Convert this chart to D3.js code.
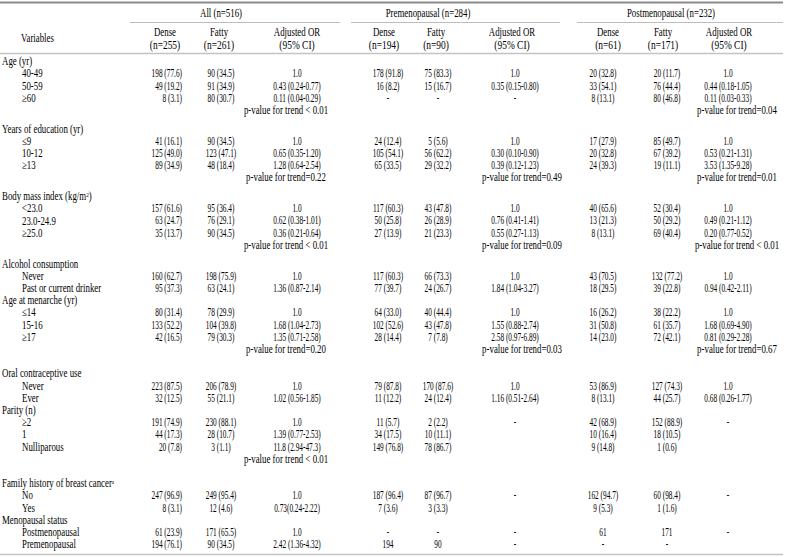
<!DOCTYPE html>
<html><head><meta charset="utf-8">
<script src="https://cdn.jsdelivr.net/npm/d3@7"></script>
<style>
body{margin:0;background:#fff;}
svg{display:block;}
text{font-family:"Liberation Serif","Times New Roman",serif;fill:#000;}
</style>
</head><body><div id="chart"></div>
<script>
// ---------- DATA ----------
const groupLabels = ["All (n=516)", "Premenopausal (n=284)", "Postmenopausal (n=232)"];
const columnHeads = [
  ["Dense", "(n=255)"], ["Fatty", "(n=261)"], ["Adjusted OR", "(95% CI)"],
  ["Dense", "(n=194)"], ["Fatty", "(n=90)"], ["Adjusted OR", "(95% CI)"],
  ["Dense", "(n=61)"], ["Fatty", "(n=171)"], ["Adjusted OR", "(95% CI)"]
];
// kinds: h = variable heading, s = category, p = p-value line, b = blank
const rowKinds = ["h","s","s","s","p","h","s","s","s","p","h","s","s","s","p","h","s","s","h","s","s","s","p","b","h","s","s","h","s","s","s","p","b","h","s","s","h","s","s"];
const rowLabels = ["Age (yr)","40-49","50-59","\u226560","",
  "Years of education (yr)","\u22649","10-12","\u226513","",
  "Body mass index (kg/m|2|)","<23.0","23.0-24.9","\u226525.0","",
  "Alcohol consumption","Never","Past or current drinker",
  "Age at menarche (yr)","\u226414","15-16","\u226517","","",
  "Oral contraceptive use","Never","Ever",
  "Parity (n)","\u22652","1","Nulliparous","","",
  "Family history of breast cancer|a|","No","Yes",
  "Menopausal status","Postmenopausal","Premenopausal"];

const allDense = ["","198 (77.6)","49 (19.2)","8 (3.1)","","","41 (16.1)","125 (49.0)","89 (34.9)","","","157 (61.6)","63 (24.7)","35 (13.7)","","","160 (62.7)","95 (37.3)","","80 (31.4)","133 (52.2)","42 (16.5)","","","","223 (87.5)","32 (12.5)","","191 (74.9)","44 (17.3)","20 (7.8)","","","","247 (96.9)","8 (3.1)","","61 (23.9)","194 (76.1)"];
const allFatty = ["","90 (34.5)","91 (34.9)","80 (30.7)","","","90 (34.5)","123 (47.1)","48 (18.4)","","","95 (36.4)","76 (29.1)","90 (34.5)","","","198 (75.9)","63 (24.1)","","78 (29.9)","104 (39.8)","79 (30.3)","","","","206 (78.9)","55 (21.1)","","230 (88.1)","28 (10.7)","3 (1.1)","","","","249 (95.4)","12 (4.6)","","171 (65.5)","90 (34.5)"];
const allOR = ["","1.0","0.43 (0.24-0.77)","0.11 (0.04-0.29)","p-value for trend < 0.01","","1.0","0.65 (0.35-1.20)","1.28 (0.64-2.54)","p-value for trend=0.22","","1.0","0.62 (0.38-1.01)","0.36 (0.21-0.64)","p-value for trend < 0.01","","1.0","1.36 (0.87-2.14)","","1.0","1.68 (1.04-2.73)","1.35 (0.71-2.58)","p-value for trend=0.20","","","1.0","1.02 (0.56-1.85)","","1.0","1.39 (0.77-2.53)","11.8 (2.94-47.3)","p-value for trend < 0.01","","","1.0","0.73(0.24-2.22)","","1.0","2.42 (1.36-4.32)"];
const preDense = ["","178 (91.8)","16 (8.2)","-","","","24 (12.4)","105 (54.1)","65 (33.5)","","","117 (60.3)","50 (25.8)","27 (13.9)","","","117 (60.3)","77 (39.7)","","64 (33.0)","102 (52.6)","28 (14.4)","","","","79 (87.8)","11 (12.2)","","11 (5.7)","34 (17.5)","149 (76.8)","","","","187 (96.4)","7 (3.6)","","-","194"];
const preFatty = ["","75 (83.3)","15 (16.7)","-","","","5 (5.6)","56 (62.2)","29 (32.2)","","","43 (47.8)","26 (28.9)","21 (23.3)","","","66 (73.3)","24 (26.7)","","40 (44.4)","43 (47.8)","7 (7.8)","","","","170 (87.6)","24 (12.4)","","2 (2.2)","10 (11.1)","78 (86.7)","","","","87 (96.7)","3 (3.3)","","-","90"];
const preOR = ["","1.0","0.35 (0.15-0.80)","-","","","1.0","0.30 (0.10-0.90)","0.39 (0.12-1.23)","p-value for trend=0.49","","1.0","0.76 (0.41-1.41)","0.55 (0.27-1.13)","p-value for trend=0.09","","1.0","1.84 (1.04-3.27)","","1.0","1.55 (0.88-2.74)","2.58 (0.97-6.89)","p-value for trend=0.03","","","1.0","1.16 (0.51-2.64)","","-","","","","","","-","","","-","-"];
const postDense = ["","20 (32.8)","33 (54.1)","8 (13.1)","","","17 (27.9)","20 (32.8)","24 (39.3)","","","40 (65.6)","13 (21.3)","8 (13.1)","","","43 (70.5)","18 (29.5)","","16 (26.2)","31 (50.8)","14 (23.0)","","","","53 (86.9)","8 (13.1)","","42 (68.9)","10 (16.4)","9 (14.8)","","","","162 (94.7)","9 (5.3)","","61","-"];
const postFatty = ["","20 (11.7)","76 (44.4)","80 (46.8)","","","85 (49.7)","67 (39.2)","19 (11.1)","","","52 (30.4)","50 (29.2)","69 (40.4)","","","132 (77.2)","39 (22.8)","","38 (22.2)","61 (35.7)","72 (42.1)","","","","127 (74.3)","44 (25.7)","","152 (88.9)","18 (10.5)","1 (0.6)","","","","60 (98.4)","1 (1.6)","","171","-"];
const postOR = ["","1.0","0.44 (0.18-1.05)","0.11 (0.03-0.33)","p-value for trend=0.04","","1.0","0.53 (0.21-1.31)","3.53 (1.35-9.28)","p-value for trend=0.01","","1.0","0.49 (0.21-1.12)","0.20 (0.77-0.52)","p-value for trend < 0.01","","1.0","0.94 (0.42-2.11)","","1.0","1.68 (0.69-4.90)","0.81 (0.29-2.28)","p-value for trend=0.67","","","1.0","0.68 (0.26-1.77)","","-","","","","","","-","","","-",""];

// ---------- LAYOUT ----------
const W = 791, H = 557;
const FS = 11.8;        // font size
const SX = 0.75;        // horizontal compression for words
const SXN = 0.62;       // horizontal compression for numeric cells
const columns = [
  {values: allDense,  x: 182, anchor: "end",    hx: 165},
  {values: allFatty,  x: 221, anchor: "middle", hx: 219},
  {values: allOR,     x: 297, anchor: "middle", hx: 297, px: 286},
  {values: preDense,  x: 388, anchor: "middle", hx: 384},
  {values: preFatty,  x: 438, anchor: "middle", hx: 436},
  {values: preOR,     x: 515, anchor: "middle", hx: 512, px: 522},
  {values: postDense, x: 603, anchor: "middle", hx: 608},
  {values: postFatty, x: 667, anchor: "middle", hx: 663},
  {values: postOR,    x: 728, anchor: "middle", hx: 729, px: 737}
];
const groupLayout = [
  {cx: 221, x0: 130, x1: 340},
  {cx: 428, x0: 351, x1: 560},
  {cx: 671, x0: 577, x1: 783}
];

// row slots: p-value rows followed directly by a heading get an extra half gap
const gapAfterP = 0.53;
let acc = 0;
const slots = rowKinds.map((k, i) => {
  const s = i + acc;
  if (k === "p" && rowKinds[i + 1] === "h") acc += gapAfterP;
  return s;
});
const y = d3.scaleLinear()
  .domain([0, slots[slots.length - 1]])
  .range([61, 544.1]);

const svg = d3.select("#chart").append("svg")
  .attr("width", W).attr("height", H);

function addText(sel, str, x, yy, anchor, sx) {
  const t = sel.append("text")
    .attr("transform", `translate(${x},${yy}) scale(${sx || SX},1)`)
    .attr("text-anchor", anchor)
    .attr("dy", "0.35em")
    .style("font-size", FS + "px");
  const parts = str.split("|");
  parts.forEach((p, i) => {
    if (!p) return;
    const ts = t.append("tspan").text(p);
    if (i % 2 === 1) ts.attr("baseline-shift", "super").style("font-size", "7px");
  });
  return t;
}

// rules
const rule = (x0, x1, yy, w, c) => svg.append("line")
  .attr("x1", x0).attr("x2", x1).attr("y1", yy).attr("y2", yy)
  .attr("stroke", c).attr("stroke-width", w);
rule(0, 783, 2.5, 2.2, "#8a8a8a");
groupLayout.forEach(g => rule(g.x0, g.x1, 22.5, 1, "#bdbdbd"));
rule(0, 783, 53.5, 1.3, "#c4c4c4");
rule(0, 783, 554.5, 1.6, "#c4c4c4");

// header
const head = svg.append("g");
groupLabels.forEach((g, i) => addText(head, g, groupLayout[i].cx, 12.5, "middle"));
addText(head, "Variables", 37.5, 37.5, "middle");
columnHeads.forEach((h, i) => {
  addText(head, h[0], columns[i].hx, 31.5, "middle");
  addText(head, h[1], columns[i].hx, 44.5, "middle", 0.8);
});

// row labels
const body = svg.append("g");
rowLabels.forEach((lab, i) => {
  if (!lab) return;
  const kind = rowKinds[i];
  addText(body, lab, kind === "h" ? 2 : 22, y(slots[i]), "start");
});

// cells
columns.forEach(col => {
  col.values.forEach((v, i) => {
    if (!v) return;
    const isP = rowKinds[i] === "p";
    const x = isP && col.px ? col.px : col.x;
    addText(body, v, x, y(slots[i]), isP ? "middle" : col.anchor, isP ? SX : SXN);
  });
});
</script>
</body></html>
